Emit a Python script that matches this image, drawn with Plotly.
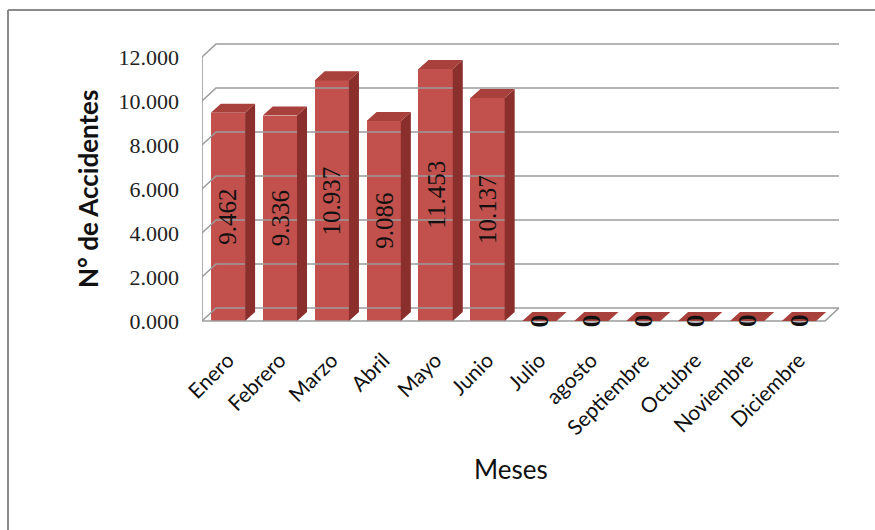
import plotly.graph_objects as go

months = ["Enero", "Febrero", "Marzo", "Abril", "Mayo", "Junio", "Julio",
          "agosto", "Septiembre", "Octubre", "Noviembre", "Diciembre"]
values = [9.462, 9.336, 10.937, 9.086, 11.453, 10.137, 0, 0, 0, 0, 0, 0]
y_ticks = [0, 2, 4, 6, 8, 10, 12]
y_ticklabels = ["0.000", "2.000", "4.000", "6.000", "8.000", "10.000", "12.000"]

# 3D look parameters (axis units)
BW = 0.66        # bar front width
DXB, DYB = 0.193, 0.41   # bar depth offset
DXW, DYW = 0.27, 0.59    # wall depth offset
X0, X1 = -0.5, len(months) - 0.5

FRONT = "#c2504c"
SIDE = "#8a2f2c"
TOP = "#a8403c"
GRID = "#9c9c9c"
SERIF = "Liberation Serif, Times New Roman, serif"

fig = go.Figure()

# walls / gridlines
gx, gy = [], []
for t in y_ticks:
    gx += [X0, X0 + DXW, X1 + DXW, None]
    gy += [t, t + DYW, t + DYW, None]
gx += [X0, X0, None, X0, X1, X1 + DXW, None]
gy += [0, y_ticks[-1], None, 0, 0, DYW, None]
fig.add_trace(go.Scatter(x=gx, y=gy, mode="lines", line=dict(color=GRID, width=1.6),
                         hoverinfo="skip", showlegend=False))

xs = list(range(len(months)))

# bar front faces
fig.add_trace(go.Bar(x=xs, y=values, width=BW, marker=dict(color=FRONT, line=dict(width=0)),
                     showlegend=False))

# side and top faces
sx, sy = [], []
tx, ty = [], []
for c, v in zip(xs, values):
    r = c + BW / 2
    l = c - BW / 2
    if v > 0:
        sx += [r, r + DXB, r + DXB, r, r, None]
        sy += [0, DYB, v + DYB, v, 0, None]
    tx += [l, l + DXB, r + DXB, r, l, None]
    ty += [v, v + DYB, v + DYB, v, v, None]
fig.add_trace(go.Scatter(x=sx, y=sy, mode="lines", fill="toself", fillcolor=SIDE,
                         line=dict(width=0, color=SIDE), hoverinfo="skip", showlegend=False))
fig.add_trace(go.Scatter(x=tx, y=ty, mode="lines", fill="toself", fillcolor=TOP,
                         line=dict(width=0, color=TOP), hoverinfo="skip", showlegend=False))

annotations = []
for c, v in zip(xs, values):
    txt = f"{v:.3f}" if v else "<b>0</b>"
    annotations.append(dict(x=c, y=v / 2 if v else 0.0, xref="x", yref="y", text=txt,
                            textangle=-90, showarrow=False,
                            font=dict(family=SERIF, size=25, color="#111")))

W, H = 875, 530
ml, mr, mt, mb = 202, 36, 43, 207
pw, ph = W - ml - mr, H - mt - mb

def px(x):
    return (x - ml) / pw

def py(y):
    return (H - mb - y) / ph

annotations.append(dict(x=px(511), y=py(487), xref="paper", yref="paper", text="Meses",
                        showarrow=False, font=dict(family="Lato", size=26, color="#111")))
annotations.append(dict(x=px(70), y=py(189), xref="paper", yref="paper",
                        text="<b>N° de Accidentes</b>", textangle=-90, showarrow=False,
                        font=dict(family="Lato", size=26, color="#111")))

shapes = [
    dict(type="line", xref="paper", yref="paper", x0=px(8), x1=px(880), y0=py(10), y1=py(10),
         line=dict(color="#8a8a8a", width=2)),
    dict(type="line", xref="paper", yref="paper", x0=px(8), x1=px(8), y0=py(10), y1=py(540),
         line=dict(color="#8a8a8a", width=2)),
]

fig.update_layout(
    width=W, height=H,
    margin=dict(l=ml, r=mr, t=mt, b=mb),
    paper_bgcolor="white", plot_bgcolor="white",
    bargap=0, showlegend=False,
    annotations=annotations, shapes=shapes,
    xaxis=dict(range=[X0, X1 + DXW], tickvals=xs, ticktext=months, tickangle=-45,
               showgrid=False, zeroline=False, showline=False, ticks="",
               ticklabelstandoff=20,
               tickfont=dict(family="Lato", size=21, color="#111")),
    yaxis=dict(range=[-0.091, 12.636], tickvals=y_ticks, ticktext=y_ticklabels,
               showgrid=False, zeroline=False, showline=False, ticks="",
               ticklabelstandoff=22,
               tickfont=dict(family=SERIF, size=22, color="#222")),
)

fig.write_html("out.html")
